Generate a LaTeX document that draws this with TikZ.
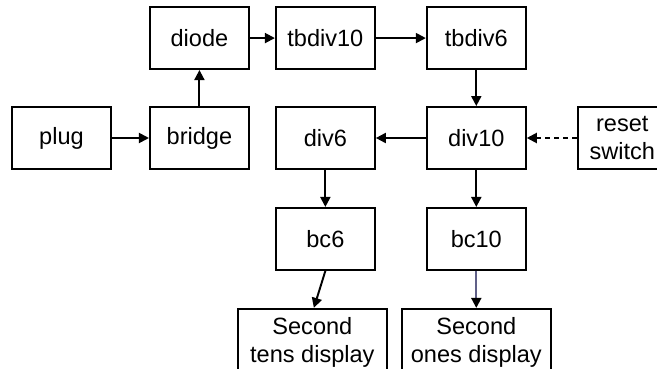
\documentclass[tikz,border=0pt]{standalone}
\usepackage{fontspec}
\setmainfont{Liberation Sans}
\usepackage{tikz}
\usetikzlibrary{arrows.meta, positioning}

\definecolor{slateline}{RGB}{96,96,136}

\begin{document}
\begin{tikzpicture}[
                box/.style={draw, line width=1.1pt, minimum width=1.98cm, minimum height=1.24cm, inner sep=2pt, align=center, font=\fontsize{13.4}{15.9}\selectfont},
                wide/.style={box, minimum width=2.98cm, minimum height=1.36cm},
                arrow/.style={-{Triangle[length=0.2cm, width=0.2cm]}, line width=1.1pt}]

                \clip (-1.23,2.76) rectangle (11.91,-4.60);

                % Entities
                \node[box] (plug) {plug};
                \node[box, right=0.74cm of plug] (bridge) {bridge};
                \node[box, above=0.72cm of bridge] (diode) {diode};
                \node[box, right=0.5cm of diode] (tbdiv10) {tbdiv10};
                \node[box, right=1.0cm of tbdiv10] (tbdiv6) {tbdiv6};
                \node[box, below=0.72cm of tbdiv6] (div10) {div10};
                \node[box, left=1.0cm of div10] (div6) {div6};
                \node[box, minimum width=1.78cm, right=1.0cm of div10] (reset) {reset\\switch};
                \node[box, below=0.74cm of div6] (bc6) {bc6};
                \node[box, below=0.74cm of div10] (bc10) {bc10};
                \node[wide, below=0.74cm of bc6, xshift=-0.26cm] (tens) {Second\\tens display};
                \node[wide, below=0.74cm of bc10] (ones) {Second\\ones display};

                % Arrows
                \draw[arrow] (plug) -- (bridge);
                \draw[arrow] (bridge) -- (diode);
                \draw[arrow] (diode) -- (tbdiv10);
                \draw[arrow] (tbdiv10) -- (tbdiv6);
                \draw[arrow] (tbdiv6) -- (div10);
                \draw[arrow] (div10) -- (div6);
                \draw[arrow, dash pattern=on 0.1cm off 0.08cm] (reset) -- (div10);
                \draw[arrow] (div6) -- (bc6);
                \draw[arrow] (div10) -- (bc10);
                \draw[arrow] (bc6.south) -- ([xshift=0.03cm]tens.north);
                \draw[arrow, slateline, -{Triangle[length=0.2cm, width=0.2cm, color=black]}] (bc10) -- (ones);
            \end{tikzpicture}
\end{document}
